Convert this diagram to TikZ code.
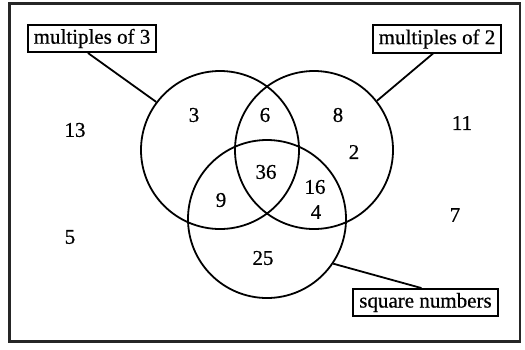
\documentclass[tikz,border=0pt]{standalone}
\usepackage{fontspec}
\setmainfont{Liberation Serif}[FakeBold=0.6]
\usepackage{tikz}
\usetikzlibrary{positioning}

\tikzset{
  setcircle/.style={draw, circle, line width=1.8pt, minimum size=158pt, inner sep=0pt},
  labelbox/.style={draw, line width=1.8pt, inner xsep=6pt, inner ysep=4pt},
  link/.style={line width=1.8pt}
}

\begin{document}
\begin{tikzpicture}[x=1pt, y=-1pt, every node/.style={font=\fontsize{21}{23}\selectfont}]
  \useasboundingbox (0,0) rectangle (525,349);
  \draw[line width=2.2pt, black!85] (9.5,3.5) rectangle (520,341.5);

  \node[setcircle] (setA) at (220,150) {};
  \node[setcircle] (setB) at (314,150) {};
  \node[setcircle] (setC) at (267,219) {};

  \node[labelbox] (lab3) at (92,38.5) {multiples of 3};
  \node[labelbox] (lab2) at (437,39) {multiples of 2};
  \node[labelbox] (labsq) at (425.5,302.5) {square numbers};

  \draw[link] ([xshift=-4pt]lab3.south) -- (setA.143);
  \draw[link] ([xshift=-4pt]lab2.south) -- (setB.38);
  \draw[link] ([xshift=-4pt]labsq.north) -- (setC.-34);

  \node (n3) at (194,115) {3};
  \node (n6) at (265,115) {6};
  \node (n8) at (338,115) {8};
  \node (n2) at (354,152) {2};
  \node (n36) at (266,172) {36};
  \node (n9) at (221,200) {9};
  \node (n16) at (315,187) {16};
  \node (n4) at (316,212) {4};
  \node (n25) at (263,258) {25};
  \node (n13) at (75,130) {13};
  \node (n5) at (70,237) {5};
  \node (n11) at (462,123) {11};
  \node (n7) at (455,215) {7};
\end{tikzpicture}
\end{document}
